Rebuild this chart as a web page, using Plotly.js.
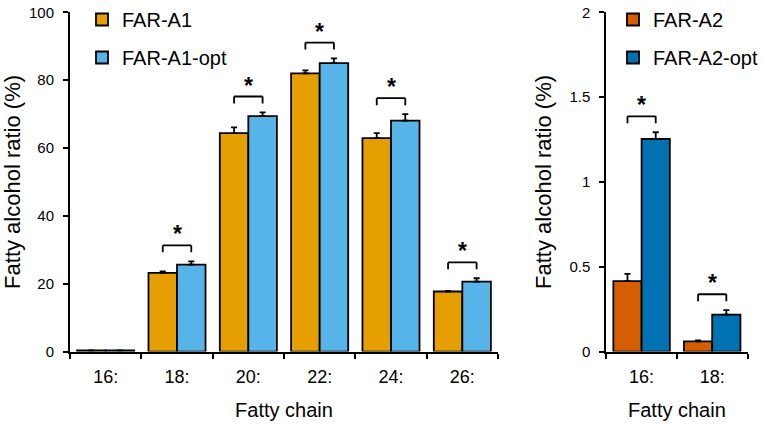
<!DOCTYPE html>
<html>
<head>
<meta charset="utf-8">
<script src="https://cdn.plot.ly/plotly-3.0.1.min.js"></script>
<style>html,body{margin:0;padding:0;background:#fff;}#chart{width:764px;height:427px;}</style>
</head>
<body>
<div id="chart"></div>
<script>
// ---- data ----
const chains1 = ['16:', '18:', '20:', '22:', '24:', '26:'];
const farA1 = [0.3, 23.2, 64.4, 82.0, 62.9, 17.7];
const farA1Err = [0.05, 0.4, 1.7, 0.9, 1.5, 0.2];
const farA1opt = [0.3, 25.6, 69.4, 85.0, 68.1, 20.6];
const farA1optErr = [0.05, 1.0, 1.1, 1.4, 1.9, 1.0];
const sig1 = [false, true, true, true, true, true];

const chains2 = ['16:', '18:'];
const farA2 = [0.415, 0.06];
const farA2Err = [0.043, 0.005];
const farA2opt = [1.253, 0.218];
const farA2optErr = [0.04, 0.026];
const sig2 = [true, true];

const yRange1 = [0, 100];
const yRange2 = [0, 2];

// ---- layout geometry ----
const W = 764, H = 427;
const yDom = [0.178, 0.978];
const xDom1 = [70 / W, 498 / W];
const xDom2 = [606.3 / W, 747.5 / W];
const plotH = (yDom[1] - yDom[0]) * H;
const px1 = (yRange1[1] - yRange1[0]) / plotH; // data units per px
const px2 = (yRange2[1] - yRange2[0]) / plotH;

const colA1 = '#E69F00', colA1o = '#56B4E9', colA2 = '#D55E00', colA2o = '#0072B2';
const FONT = 'Liberation Sans, Arial, sans-serif';

function zeros(a) { return a.map(() => 0); }
function barTrace(name, x, y, err, color, xa, ya, legend, group) {
  return {
    type: 'bar', name: name, x: x, y: y, xaxis: xa, yaxis: ya, legend: legend, legendgroup: group,
    marker: { color: color, line: { color: '#000', width: 1.8 } },
    error_y: { type: 'data', array: err, arrayminus: zeros(err), symmetric: false, color: '#000', thickness: 1.8, width: 3 }
  };
}

const data = [
  barTrace('FAR-A1', chains1, farA1, farA1Err, colA1, 'x', 'y', 'legend', 'a'),
  barTrace('FAR-A1-opt', chains1, farA1opt, farA1optErr, colA1o, 'x', 'y', 'legend', 'b'),
  barTrace('FAR-A2', chains2, farA2, farA2Err, colA2, 'x2', 'y2', 'legend2', 'c'),
  barTrace('FAR-A2-opt', chains2, farA2opt, farA2optErr, colA2o, 'x2', 'y2', 'legend2', 'd')
];

const shapes = [], annotations = [];
function addBrackets(v1, e1, v2, e2, sig, pxUnit, xref, yref) {
  for (let i = 0; i < v1.length; i++) {
    if (!sig[i]) continue;
    const top = Math.max(v1[i] + e1[i], v2[i] + e2[i]);
    const by = top + 16 * pxUnit;
    const bl = by - 7 * pxUnit;
    const L = i - 0.2, R = i + 0.2;
    const line = { color: '#000', width: 1.8 };
    shapes.push({ type: 'line', xref: xref, yref: yref, x0: L, x1: R, y0: by, y1: by, line: line });
    shapes.push({ type: 'line', xref: xref, yref: yref, x0: L, x1: L, y0: by, y1: bl, line: line });
    shapes.push({ type: 'line', xref: xref, yref: yref, x0: R, x1: R, y0: by, y1: bl, line: line });
    annotations.push({ xref: xref, yref: yref, x: i, y: by, yshift: 11, yanchor: 'middle', showarrow: false,
      text: '<b>*</b>', font: { family: FONT, size: 23, color: '#000' } });
  }
}
addBrackets(farA1, farA1Err, farA1opt, farA1optErr, sig1, px1, 'x', 'y');
addBrackets(farA2, farA2Err, farA2opt, farA2optErr, sig2, px2, 'x2', 'y2');

function xAxis(dom, anchor) {
  return {
    domain: dom, anchor: anchor, type: 'category', showline: true, linecolor: '#000', linewidth: 2,
    ticks: 'outside', tickson: 'boundaries', ticklen: 5, tickwidth: 2, tickcolor: '#000',
    tickfont: { family: FONT, size: 18, color: '#000' }, ticklabelstandoff: 8,
    showgrid: false, zeroline: false, fixedrange: true,
    title: { text: 'Fatty chain', font: { family: FONT, size: 20, color: '#000' }, standoff: 17 }
  };
}
function yAxis(range, dtick, anchor, standoff) {
  return {
    domain: yDom, anchor: anchor, range: range, dtick: dtick, tick0: 0, showline: true, linecolor: '#000', linewidth: 2,
    ticks: 'outside', ticklen: 5, tickwidth: 2, tickcolor: '#000',
    tickfont: { family: FONT, size: 15, color: '#000' }, ticklabelstandoff: 6,
    showgrid: false, zeroline: false, fixedrange: true,
    title: { text: 'Fatty alcohol ratio (%)', font: { family: FONT, size: 22, color: '#000' }, standoff: standoff }
  };
}

const legendCommon = { font: { family: FONT, size: 20, color: '#000' }, bgcolor: 'rgba(0,0,0,0)', borderwidth: 0,
  tracegroupgap: 9, itemwidth: 30, yanchor: 'top', xanchor: 'left', y: 1 + 3 / H, traceorder: 'grouped' };

const layout = {
  width: W, height: H, margin: { l: 0, r: 0, t: 0, b: 0 },
  paper_bgcolor: '#fff', plot_bgcolor: '#fff',
  barmode: 'group', bargap: 0.2, bargroupgap: 0,
  font: { family: FONT, color: '#000' },
  xaxis: xAxis(xDom1, 'y'),
  yaxis: yAxis(yRange1, 20, 'x', 6),
  xaxis2: xAxis(xDom2, 'y2'),
  yaxis2: yAxis(yRange2, 0.5, 'x2', 12),
  legend: Object.assign({}, legendCommon, { x: 82 / W }),
  legend2: Object.assign({}, legendCommon, { x: 613 / W }),
  shapes: shapes, annotations: annotations, showlegend: true
};

Plotly.newPlot('chart', data, layout, { displayModeBar: false, staticPlot: true });
</script>
</body>
</html>
